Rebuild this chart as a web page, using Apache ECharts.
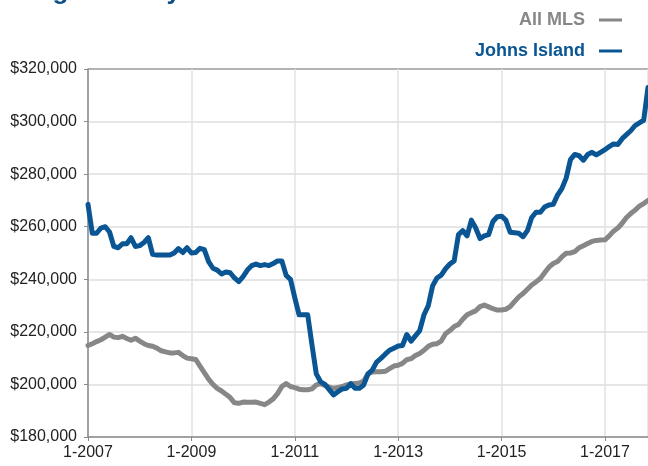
<!DOCTYPE html>
<html>
<head>
<meta charset="utf-8">
<script src="https://cdn.jsdelivr.net/npm/echarts@6/dist/echarts.min.js"></script>
<style>
html,body{margin:0;padding:0;background:#fff;}
#chart{width:648px;height:466px;}
</style>
</head>
<body>
<div id="chart"></div>
<script>
// Months since Jan 2007 (0 = 1-2007)
var months = [];
for (var i = 0; i <= 130; i++) months.push(i);

var xTickLabels = ['1-2007', '1-2009', '1-2011', '1-2013', '1-2015', '1-2017'];
var yTickValues = [180000, 200000, 220000, 240000, 260000, 280000, 300000, 320000];
var seriesNames = ['All MLS', 'Johns Island'];

// Values in thousands of dollars, one per month
var allMLS = [
  214.8, 215.5, 216.3, 217.0, 218.0, 219.0, 218.0, 217.8, 218.3, 217.5,
  216.8, 217.6, 216.5, 215.5, 214.8, 214.5, 213.8, 212.8, 212.4, 212.0,
  212.0, 212.2, 211.0, 210.0, 209.8, 209.5, 207.0, 204.5, 202.0, 200.0,
  198.5, 197.5, 196.3, 195.0, 193.0, 192.8, 193.3, 193.2, 193.2, 193.3,
  192.8, 192.3, 193.3, 194.5, 196.5, 199.2, 200.3, 199.2, 198.8, 198.2,
  198.0, 198.0, 198.3, 199.8, 200.3, 199.6, 199.0, 198.5, 198.8, 199.2,
  199.8, 200.2, 200.4, 200.5, 201.3, 204.0, 204.7, 204.8, 204.8, 205.0,
  206.0, 207.0, 207.3, 208.0, 209.4, 209.8, 211.0, 211.8, 213.0, 214.5,
  215.3, 215.5, 216.5, 219.3, 220.5, 222.0, 222.8, 224.8, 226.5, 227.3,
  228.0, 229.6, 230.2, 229.5, 228.8, 228.3, 228.3, 228.6, 229.6, 231.5,
  233.3, 234.6, 236.2, 237.8, 239.0, 240.3, 242.5, 244.6, 246.0, 246.8,
  248.5, 249.9, 250.0, 250.5, 252.0, 252.8, 253.6, 254.4, 254.8, 254.9,
  255.0, 256.5, 258.3, 259.5, 261.3, 263.5, 265.0, 266.3, 267.8, 268.8,
  270.0
];
var johnsIsland = [
  268.5, 257.5, 257.5, 259.5, 260.0, 258.0, 252.5, 252.0, 253.5, 253.5,
  255.8, 252.5, 252.8, 254.0, 255.8, 249.5, 249.2, 249.2, 249.2, 249.2,
  250.0, 251.7, 250.2, 252.0, 250.0, 250.2, 251.8, 251.3, 246.7, 244.2,
  243.5, 242.0, 242.8, 242.5, 240.5, 239.1, 241.0, 243.5, 245.2, 245.8,
  245.2, 245.6, 245.2, 246.0, 247.0, 247.0, 241.5, 240.0, 233.0, 226.5,
  226.5, 226.5, 215.0, 204.0, 201.0, 200.0, 198.0, 196.0, 197.2, 198.3,
  198.5, 200.3, 198.5, 198.5, 199.8, 204.0, 205.5, 208.5, 209.9, 211.5,
  213.0, 213.8, 214.6, 214.8, 219.0, 216.5, 218.5, 220.5, 226.5, 230.0,
  237.5, 240.5, 241.6, 244.0, 245.8, 247.0, 257.0, 258.5, 256.5, 262.5,
  259.5, 255.5, 256.5, 257.0, 262.0, 263.8, 264.0, 262.5, 257.9, 257.7,
  257.5, 256.2, 258.5, 263.5, 265.5, 265.5, 267.5, 268.3, 268.5, 272.0,
  274.5, 278.5, 285.5, 287.5, 287.0, 285.3, 287.5, 288.3, 287.3, 288.3,
  289.3, 290.5, 291.5, 291.3, 293.5, 295.0, 296.5, 298.5, 299.5, 300.5,
  313.0
];

function pairs(vals) {
  return vals.map(function (v, i) { return [months[i], v * 1000]; });
}

var GRAY = '#878787';
var BLUE = '#0a5694';

var chart = echarts.init(document.getElementById('chart'), null, { renderer: 'canvas' });
chart.setOption({
  animation: false,
  backgroundColor: '#ffffff',
  graphic: [{
    type: 'text',
    left: 12,
    top: -21,
    style: {
      text: 'Single-Family Detached',
      fill: '#0b4d86',
      font: 'bold 26px "Liberation Sans", sans-serif'
    }
  }],
  legend: {
    orient: 'vertical',
    right: 21,
    top: 4,
    align: 'right',
    itemWidth: 23,
    itemHeight: 3,
    itemGap: 9,
    icon: 'rect',
    selectedMode: false,
    textStyle: {
      fontFamily: '"Liberation Sans", Arial, sans-serif',
      fontWeight: 'bold',
      fontSize: 18,
      lineHeight: 22,
      padding: [0, 9, 0, 0]
    },
    data: [
      { name: seriesNames[0], textStyle: { color: GRAY } },
      { name: seriesNames[1], textStyle: { color: BLUE } }
    ]
  },
  grid: {
    left: 88,
    right: 0,
    top: 69,
    bottom: 29,
    containLabel: false
  },
  xAxis: {
    type: 'value',
    min: 0,
    max: 130,
    interval: 24,
    axisLine: { show: true, lineStyle: { color: '#8a8a8a', width: 1.5 } },
    axisTick: { show: true, length: 4, lineStyle: { color: '#8a8a8a' } },
    splitLine: { show: true, lineStyle: { color: '#e2e2e2', width: 1.5 } },
    axisLabel: {
      showMaxLabel: false,
      margin: 8,
      color: '#222',
      fontSize: 16,
      fontFamily: '"Liberation Sans", Arial, sans-serif',
      formatter: function (v) {
        return v % 24 === 0 ? (xTickLabels[v / 24] || '') : '';
      }
    }
  },
  yAxis: {
    type: 'value',
    min: yTickValues[0],
    max: yTickValues[yTickValues.length - 1],
    interval: 20000,
    axisLine: { show: true, lineStyle: { color: '#8a8a8a', width: 1.5 } },
    axisTick: { show: true, length: 4, lineStyle: { color: '#8a8a8a' } },
    splitLine: {
      show: true,
      lineStyle: {
        color: ['#dedede', '#dedede', '#dedede', '#dedede', '#dedede', '#dedede', '#dedede', '#9a9a9a'],
        width: 1.5
      }
    },
    axisLabel: {
      margin: 11,
      color: '#222',
      fontSize: 16,
      fontFamily: '"Liberation Sans", Arial, sans-serif',
      formatter: function (v) {
        return '$' + v.toLocaleString('en-US');
      }
    }
  },
  series: [
    {
      name: seriesNames[0],
      type: 'line',
      data: pairs(allMLS),
      showSymbol: false,
      symbol: 'none',
      color: GRAY,
      lineStyle: { color: GRAY, width: 5, cap: 'round', join: 'round' },
      z: 2
    },
    {
      name: seriesNames[1],
      type: 'line',
      data: pairs(johnsIsland),
      showSymbol: false,
      symbol: 'none',
      color: BLUE,
      lineStyle: { color: BLUE, width: 5, cap: 'round', join: 'round' },
      z: 3
    }
  ]
});
</script>
</body>
</html>
